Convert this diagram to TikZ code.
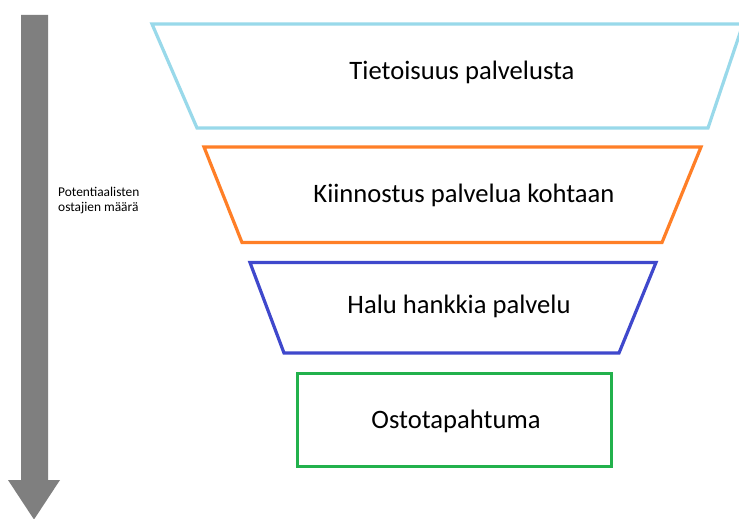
\documentclass[tikz,border=0pt]{standalone}
\usepackage{fontspec}
\setmainfont{Carlito}
\definecolor{ltblue}{HTML}{99D9EA}
\definecolor{paintorange}{HTML}{FF7F27}
\definecolor{indigo}{HTML}{3F48CC}
\definecolor{paintgreen}{HTML}{22B14C}
\definecolor{arrowgray}{HTML}{7F7F7F}
\tikzset{
  stage/.style={line width=3.2pt, line join=miter, fill=white},
  label/.style={font=\fontsize{26.6}{32}\selectfont, anchor=base, inner sep=0pt},
  side/.style={font=\fontsize{13.4}{15}\selectfont, align=left, anchor=north west, inner sep=0pt}
}
\begin{document}
\begin{tikzpicture}[x=1pt,y=-1pt]
\clip (0,0) rectangle (739,519);
\fill[white] (0,0) rectangle (739,519);
% arrow
\fill[arrowgray] (21,15) -- (48,15) -- (48,480) -- (60,480) -- (34,519.5) -- (8,480) -- (21,480) -- cycle;
\node[side] (axis) at (58,187) {Potentiaalisten\\ostajien määrä};
% funnel stages
\draw[stage, draw=ltblue] (152,24) -- (743,24) -- (708,128) -- (197,128) -- cycle;
\draw[stage, draw=paintorange] (204,147) -- (701,147) -- (662,242.5) -- (242,242.5) -- cycle;
\draw[stage, draw=indigo] (250,262.5) -- (656,262.5) -- (619,353) -- (284,353) -- cycle;
\draw[stage, draw=paintgreen] (297.5,373.5) rectangle (611.5,466.5);
\node[label] (s1) at (462,80) {Tietoisuus palvelusta};
\node[label] (s2) at (464,202) {Kiinnostus palvelua kohtaan};
\node[label] (s3) at (459,313) {Halu hankkia palvelu};
\node[label] (s4) at (456,428) {Ostotapahtuma};
\end{tikzpicture}
\end{document}
